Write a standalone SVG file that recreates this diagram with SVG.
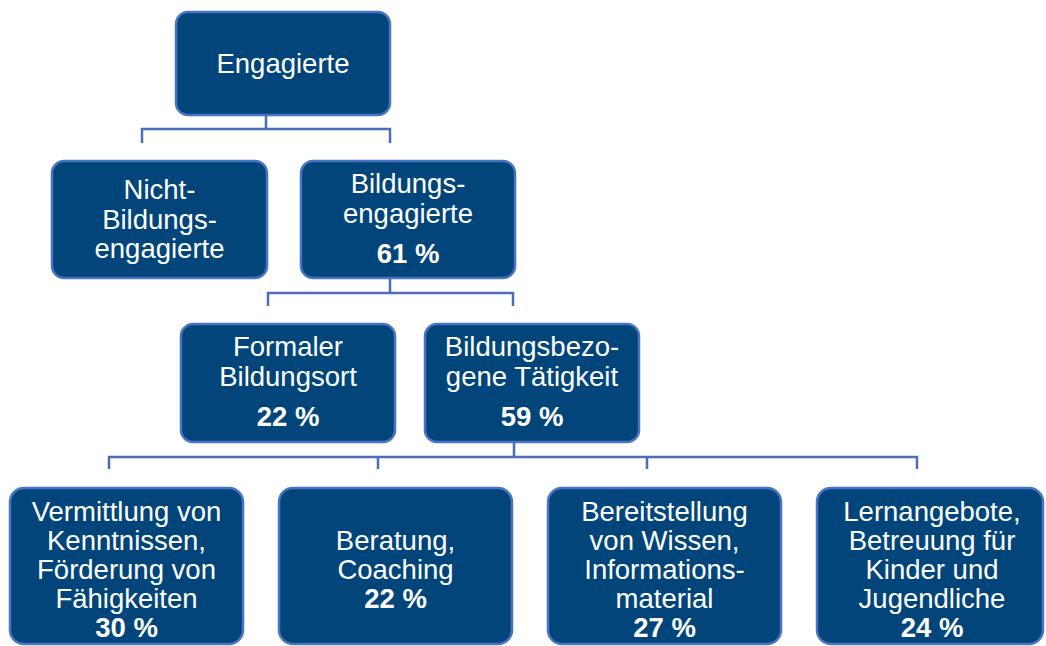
<svg xmlns="http://www.w3.org/2000/svg" width="1046" height="646" viewBox="0 0 1046 646">
<style>
.box{fill:#02457B;stroke:#4874C4;stroke-width:2.5}
.t{font-family:"Liberation Sans",Arial,sans-serif;font-size:27.5px;fill:#FFFFFF;text-anchor:middle}
.b{font-weight:bold}
.c{fill:none;stroke:#4A6FB8;stroke-width:2.5}
</style>
<rect width="1046" height="646" fill="#FFFFFF"/>
<g id="connectors">
<path class="c" d="M266 115 V129 M142 143 V129 H390 V143"/>
<path class="c" d="M390 278 V293 M268 306 V293 H513 V306"/>
<path class="c" d="M514 442 V457 M109 469 V457 H917 V469 M378 457 V469 M647 457 V469"/>
</g>
<g id="engagierte">
<rect class="box" x="176" y="12" width="214" height="103" rx="12"/>
<text class="t" x="283" y="73">Engagierte</text>
</g>
<g id="nicht-bildungsengagierte">
<rect class="box" x="52" y="161" width="215" height="117" rx="12"/>
<text class="t" x="159.5" y="199">Nicht-</text>
<text class="t" x="159.5" y="228.5">Bildungs-</text>
<text class="t" x="159.5" y="258">engagierte</text>
</g>
<g id="bildungsengagierte">
<rect class="box" x="301" y="161" width="214" height="117" rx="12"/>
<text class="t" x="408" y="193">Bildungs-</text>
<text class="t" x="408" y="223">engagierte</text>
<text class="t b" x="408" y="263">61 %</text>
</g>
<g id="formaler-bildungsort">
<rect class="box" x="181" y="324" width="214" height="118" rx="12"/>
<text class="t" x="288" y="356">Formaler</text>
<text class="t" x="288" y="386">Bildungsort</text>
<text class="t b" x="288" y="426">22 %</text>
</g>
<g id="bildungsbezogene-taetigkeit">
<rect class="box" x="425" y="324" width="214" height="118" rx="12"/>
<text class="t" x="532" y="356">Bildungsbezo-</text>
<text class="t" x="532" y="386">gene Tätigkeit</text>
<text class="t b" x="532" y="426">59 %</text>
</g>
<g id="vermittlung">
<rect class="box" x="10" y="488" width="233" height="156" rx="14"/>
<text class="t" x="126.5" y="521">Vermittlung von</text>
<text class="t" x="126.5" y="550">Kenntnissen,</text>
<text class="t" x="126.5" y="579">Förderung von</text>
<text class="t" x="126.5" y="608">Fähigkeiten</text>
<text class="t b" x="126.5" y="637">30 %</text>
</g>
<g id="beratung">
<rect class="box" x="279" y="488" width="233" height="156" rx="14"/>
<text class="t" x="395.5" y="550">Beratung,</text>
<text class="t" x="395.5" y="579">Coaching</text>
<text class="t b" x="395.5" y="608">22 %</text>
</g>
<g id="bereitstellung">
<rect class="box" x="548" y="488" width="233" height="156" rx="14"/>
<text class="t" x="664.5" y="521">Bereitstellung</text>
<text class="t" x="664.5" y="550">von Wissen,</text>
<text class="t" x="664.5" y="579">Informations-</text>
<text class="t" x="664.5" y="608">material</text>
<text class="t b" x="664.5" y="637">27 %</text>
</g>
<g id="lernangebote">
<rect class="box" x="817" y="488" width="226" height="156" rx="14"/>
<text class="t" x="932" y="521">Lernangebote,</text>
<text class="t" x="932" y="550">Betreuung für</text>
<text class="t" x="932" y="579">Kinder und</text>
<text class="t" x="932" y="608">Jugendliche</text>
<text class="t b" x="932" y="637">24 %</text>
</g>
</svg>
